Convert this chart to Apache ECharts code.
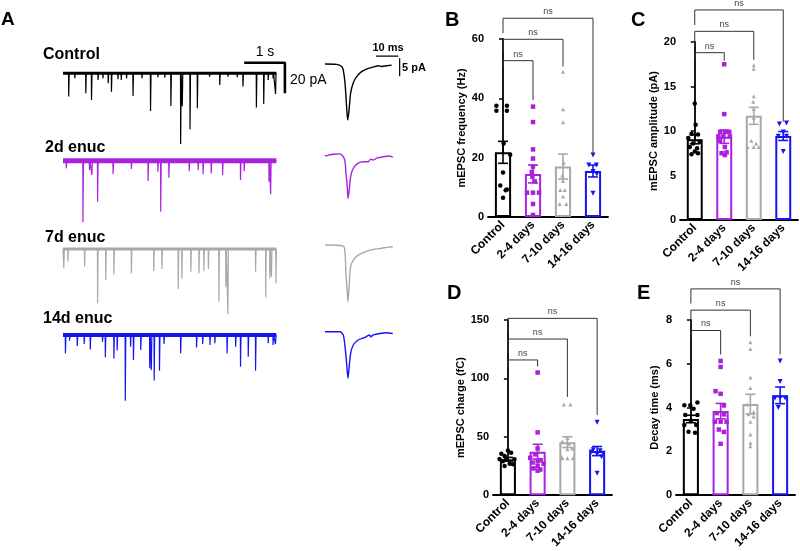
<!DOCTYPE html>
<html><head><meta charset="utf-8">
<script src="https://cdn.jsdelivr.net/npm/echarts@6/dist/echarts.min.js"></script>
<style>html,body{margin:0;padding:0;background:#fff}#c{width:800px;height:551px}</style>
</head><body><div id="c"></div>
<script>
// ---------- shared ----------
const categories = ['Control', '2-4 days', '7-10 days', '14-16 days'];
const groupColors = ['#000000', '#AA22DD', '#A8A8A8', '#1515F0'];
const groupSymbols = ['circle', 'rect', 'triangle', 'triangle'];
const groupSymbolRotate = [0, 0, 0, 180];
const groupSymbolSize = [4.5, 4.5, 4, 5];

// ---------- panel A : traces ----------
const traceLabels = ['Control', '2d enuc', '7d enuc', '14d enuc'];
const traceDuration = 5.24; // s
const controlEventTimes = [0.14,0.29,0.56,0.70,0.86,0.98,1.11,1.19,1.35,1.43,1.56,1.72,1.94,2.15,2.33,2.50,2.65,2.89,2.93,3.12,3.30,3.60,3.85,4.05,4.28,4.42,4.75,4.93,5.04,5.16,5.22];
const controlEventAmps = [-15.2,-3.3,-13.1,-17.5,-4.4,-3.3,-6.5,-12.0,-3.9,-4.4,-3.3,-14.8,-3.3,-24.6,-2.6,-2.8,-21.4,-46.2,-21.6,-36.6,-22.9,-2.2,-7.6,-2.2,-2.6,-8.7,-22.4,-20.1,-4.4,-3.3,-13.5];
const enuc2EventTimes = [0.08,0.49,0.65,0.71,0.85,1.23,1.68,2.09,2.33,2.40,2.60,3.10,3.32,3.44,3.64,3.92,4.36,4.45,5.06,5.10];
const enuc2EventAmps = [-5.0,-40.3,-6.1,-9.4,-26.8,-8.9,-5.4,-13.3,-7.2,-33.3,-11.1,-6.8,-6.1,-8.9,-8.3,-9.4,-12.6,-6.8,-13.7,-22.0];
const enuc7EventTimes = [0.02,0.12,0.53,0.85,1.05,1.25,1.68,2.23,2.43,2.83,2.92,3.14,3.34,3.46,3.57,3.83,4.00,4.05,4.73,4.98,5.08,5.12,5.23];
const enuc7EventAmps = [-12.6,-8.3,-11.5,-35.5,-20.3,-16.6,-15.9,-14.4,-13.1,-26.1,-19.2,-14.8,-15.9,-14.4,-13.1,-34.4,-24.6,-42.7,-14.8,-31.6,-19.2,-18.1,-22.4];
const enuc14EventTimes = [0.06,0.16,0.35,0.52,0.67,0.97,1.04,1.25,1.33,1.53,1.66,1.73,1.91,2.13,2.17,2.24,2.37,2.48,2.89,3.28,3.43,3.61,3.73,4.03,4.24,4.36,4.55,4.73,5.04,5.16,5.22];
const enuc14EventAmps = [-12.0,-3.7,-7.2,-5.9,-9.4,-4.4,-14.6,-15.3,-10.2,-42.9,-7.6,-16.3,-9.8,-21.8,-22.9,-29.8,-23.3,-5.9,-12.0,-8.1,-5.9,-6.5,-5.4,-12.0,-7.6,-20.7,-14.2,-23.3,-5.4,-6.5,-5.9];

// averaged events: [ms, pA]
const avgControl = [[0,0],[5.2,-0.1],[7.5,-0.7],[8.2,-1.7],[9.0,-5.4],[9.7,-11.9],[10.2,-15.6],[10.8,-12.8],[11.5,-8.1],[12.7,-5.2],[14.2,-3.5],[16.4,-2.1],[19.4,-1.2],[22.4,-0.7],[23.9,-0.5],[25.4,-0.7],[27.6,-0.5],[29.9,-0.3]];
const avgEnuc2 = [[0,0],[3.7,0.5],[6.7,0.6],[8.2,-0.2],[9.0,-1.6],[9.4,-4.8],[10.0,-8.5],[10.3,-11.8],[10.8,-9.9],[11.5,-5.7],[12.7,-3.4],[14.9,-2.0],[17.2,-1.6],[19.4,-1.6],[20.5,-0.9],[21.7,-1.1],[23.2,-0.6],[26.1,-0.2],[29.1,0],[30.4,-0.4]];
const avgEnuc7 = [[0,0],[8.2,-0.3],[9.0,-2.3],[9.4,-7.9],[10.0,-13.4],[10.3,-15.7],[10.8,-11.6],[11.5,-6.0],[12.7,-4.2],[14.9,-2.8],[17.9,-1.9],[21.7,-1.2],[25.4,-0.9],[28.4,-0.6],[30.4,-0.5]];
const avgEnuc14 = [[0,0],[6.7,0],[8.2,-0.9],[9.0,-4.2],[9.7,-8.8],[10.3,-12.9],[10.8,-10.2],[11.5,-6.0],[12.7,-3.7],[14.9,-2.3],[17.9,-1.6],[19.9,-0.9],[20.5,-1.4],[21.7,-0.9],[24.7,-0.5],[27.6,-0.3],[30.4,-0.5]];

// scale bars
const traceScaleTime = 1;      // s
const traceScaleCurrent = 20;  // pA
const avgScaleTime = 10;       // ms
const avgScaleCurrent = 5;     // pA

// ---------- panels B-E ----------
const freqMean = [21.8, 14.5, 17.0, 15.5];
const freqSem = [3.7, 3.0, 4.2, 2.0];
const freqPoints = [
  [[-0.22,37.5],[0.13,37.5],[-0.22,35.8],[0.13,35.8],[0.02,24.8],[0.24,21.0],[0,15.0],[-0.09,10.6],[0.13,9.3],[0.09,9.0],[0,6.5]],
  [[0,37.2],[0,32],[0,22.8],[0,19.7],[0,17],[-0.04,15.2],[-0.02,13.6],[0.06,12],[-0.2,8.2],[0,8.2],[0.2,8.2],[0,4.4],[0,0.7]],
  [[0,49],[0,36.3],[0,31.9],[0.02,18.3],[-0.02,14],[0,12.1],[-0.09,9.1],[0.06,9.1],[0,6.9],[-0.11,4.4],[0.11,4.4]],
  [[0,20.9],[-0.14,17.5],[0.11,17.5],[0,15.3],[0.13,14.5],[0,8]]
];
const freqBrackets = [[1,52.7,50.1,39.4],[2,59.9,55.3,50.7],[3,67.0,62.0,20.9]];
const freqTicks = [0, 60, 20];

const ampMean = [9.06, 9.36, 11.7, 9.44];
const ampSem = [0.5, 0.75, 0.95, 0.5];
const ampPoints = [
  [[0,13.1],[0.03,10.7],[-0.11,9.7],[0.11,9.6],[-0.22,9.2],[-0.06,8.6],[0.17,8.8],[-0.17,8.2],[0.08,8.05],[0,7.7],[-0.11,7.4],[0.11,7.5]],
  [[0,17.5],[0,11.9],[-0.14,9.9],[0.02,9.9],[0.17,9.9],[-0.2,9.4],[-0.03,9.4],[0.19,9.4],[-0.14,8.9],[0.02,8.2],[-0.09,7.5],[0.08,7.6],[0.02,7.3]],
  [[0,17.4],[0,17.0],[0,13.9],[-0.02,13.3],[0,12.5],[0,11.5],[-0.08,8.9],[0.08,8.6],[-0.21,8.2],[0,8.2],[0.17,8.2]],
  [[-0.13,10.8],[0.11,10.9],[0,9.9],[-0.17,9.4],[0.11,9.4],[0,7.7]]
];
const ampBrackets = [[1,18.8,17.8,17.9],[2,21.2,19.5,18.0],[3,23.6,21.9,11.05]];
const ampTicks = [0, 20, 5];

const chargeMean = [30.8, 37.3, 45.4, 37.8];
const chargeSem = [1.6, 6.3, 4.6, 3.9];
const chargePoints = [
  [[0,38.4],[-0.22,35.6],[0.11,36.4],[-0.11,33.5],[-0.28,31],[-0.06,30.8],[0.22,30.8],[-0.17,29],[0.06,27],[0.17,26.6],[-0.11,25]],
  [[0,105],[0,53.8],[0,40],[-0.08,35],[-0.25,32],[0.1,30],[0,29],[-0.17,28],[0.2,27],[0,25],[-0.14,23],[0.09,22],[0,21]],
  [[-0.12,77.7],[0.1,77.7],[0,49],[-0.17,46],[0.05,44],[0.17,40],[0,39.3],[-0.2,33],[-0.17,31.7],[0,31.7],[0.19,31.7]],
  [[0,62.5],[-0.13,39],[0.1,38],[-0.2,37],[0.2,36],[0,35],[0.15,33],[0,18.8]]
];
const chargeBrackets = [[1,115.8,108.5,110.2],[2,133.7,121.4,84.1],[3,151.4,138.8,68.7]];
const chargeTicks = [0, 150, 50];

const decayMean = [3.48, 3.84, 4.16, 4.56];
const decaySem = [0.17, 0.35, 0.45, 0.38];
const decayPoints = [
  [[0.22,4.23],[-0.22,4.11],[-0.02,4.11],[0.09,3.95],[-0.19,3.66],[0.22,3.66],[0,3.4],[-0.22,3.21],[0.18,3.21],[-0.08,2.9],[0.14,2.85]],
  [[0,6.13],[0,5.86],[-0.17,4.75],[0,4.63],[0.11,4.1],[-0.13,3.75],[0.11,3.69],[-0.19,3.36],[0,3.36],[0.2,3.36],[-0.06,3.0],[0.11,2.89],[0,2.35]],
  [[0,6.98],[0,6.68],[0,5.37],[0,4.9],[-0.11,4.14],[0.11,3.8],[-0.06,3.7],[0.11,3.6],[0,3.36],[0,2.77],[0,2.39],[0,2.24]],
  [[0,6.13],[0,5.19],[-0.17,4.44],[0,4.44],[0.17,4.44],[-0.06,4.0]]
];
const decayBrackets = [[1,7.52,7.18,6.43],[2,8.45,7.78,7.25],[3,9.42,8.75,6.43]];
const decayTicks = [0, 8, 2];

// ---------- build ----------
const FONT = '"Liberation Sans", Arial, sans-serif';
const grids = [], xAxes = [], yAxes = [], series = [];

function buildTrace(times, amps) {
  const d = [[0, 0]];
  for (let i = 0; i < times.length; i++) {
    d.push([times[i] - 0.004, 0], [times[i], amps[i]], [times[i] + 0.012, 0]);
  }
  d.push([traceDuration, 0]);
  return d;
}

const traceEvents = [
  [controlEventTimes, controlEventAmps],
  [enuc2EventTimes, enuc2EventAmps],
  [enuc7EventTimes, enuc7EventAmps],
  [enuc14EventTimes, enuc14EventAmps]
];
const avgTraces = [avgControl, avgEnuc2, avgEnuc7, avgEnuc14];
const traceGridTops = [42.7, 130.1, 218.4, 304.4];
const avgGridTops = [46, 138, 227, 313.7];
const bandWidths = [3, 5, 3, 4];

for (let k = 0; k < 4; k++) {
  // long trace
  let g = grids.length;
  grids.push({ left: 63, top: traceGridTops[k], width: 228, height: 122.4 });
  xAxes.push({ type: 'value', gridIndex: g, min: 0, max: 5.6, show: false });
  yAxes.push({ type: 'value', gridIndex: g, min: -60, max: 20, show: false });
  let xi = xAxes.length - 1, yi = yAxes.length - 1;
  series.push({ type: 'line', xAxisIndex: xi, yAxisIndex: yi, data: [[0, 0], [traceDuration, 0]],
    symbol: 'none', lineStyle: { color: groupColors[k], width: bandWidths[k] }, silent: true, z: 2 });
  series.push({ type: 'line', xAxisIndex: xi, yAxisIndex: yi, data: buildTrace(traceEvents[k][0], traceEvents[k][1]),
    symbol: 'none', lineStyle: { color: groupColors[k], width: 1.2 }, silent: true, clip: false, z: 3 });
  if (k === 0) {
    const x0 = 4.45, y0 = 6.9;
    series.push({ type: 'line', xAxisIndex: xi, yAxisIndex: yi,
      data: [[x0, y0], [x0 + traceScaleTime, y0], [x0 + traceScaleTime, y0 - traceScaleCurrent]],
      symbol: 'none', lineStyle: { color: '#000', width: 2.6 }, silent: true, clip: false });
  }
  // averaged event
  g = grids.length;
  grids.push({ left: 325, top: avgGridTops[k], width: 78, height: 90 });
  xAxes.push({ type: 'value', gridIndex: g, min: 0, max: 35, show: false });
  yAxes.push({ type: 'value', gridIndex: g, min: -20, max: 5, show: false });
  xi = xAxes.length - 1; yi = yAxes.length - 1;
  series.push({ type: 'line', xAxisIndex: xi, yAxisIndex: yi, data: avgTraces[k], smooth: 0.25,
    symbol: 'none', lineStyle: { color: groupColors[k], width: 1.4 }, silent: true, clip: false });
  if (k === 0) {
    series.push({ type: 'line', xAxisIndex: xi, yAxisIndex: yi,
      data: [[22.9, 2.2], [22.9 + avgScaleTime, 2.2]],
      symbol: 'none', lineStyle: { color: '#000', width: 1.2 }, silent: true, clip: false });
    series.push({ type: 'line', xAxisIndex: xi, yAxisIndex: yi,
      data: [[33.5, 1.6], [33.5, 1.6 - avgScaleCurrent]],
      symbol: 'none', lineStyle: { color: '#000', width: 1.2 }, silent: true, clip: false });
  }
}

function buildPanel(box, ticks, mean, sem, points, brackets, title, nameGap) {
  const g = grids.length;
  grids.push(box);
  xAxes.push({ type: 'category', gridIndex: g, data: categories, boundaryGap: true,
    axisLine: { lineStyle: { color: '#000', width: 1.8 } },
    axisTick: { alignWithLabel: true, length: 4, lineStyle: { width: 1.5 } },
    axisLabel: { rotate: 45, interval: 0, margin: 6, color: '#000', fontWeight: 'bold', fontSize: 12, fontFamily: FONT } });
  const xc = xAxes.length - 1;
  xAxes.push({ type: 'value', gridIndex: g, min: -0.5, max: 3.5, show: false });
  const xv = xAxes.length - 1;
  yAxes.push({ type: 'value', gridIndex: g, min: ticks[0], max: ticks[1], interval: ticks[2],
    name: title, nameLocation: 'middle', nameRotate: 90, nameGap: nameGap,
    nameTextStyle: { color: '#000', fontWeight: 'bold', fontSize: 11, fontFamily: FONT },
    axisLine: { show: true, lineStyle: { color: '#000', width: 1.8 } },
    axisTick: { show: true, length: 4, lineStyle: { width: 1.5 } },
    splitLine: { show: false },
    axisLabel: { color: '#000', fontWeight: 'bold', fontSize: 11, margin: 4, fontFamily: FONT } });
  const yi = yAxes.length - 1;
  series.push({ type: 'bar', xAxisIndex: xc, yAxisIndex: yi, barWidth: '54%', silent: true,
    data: mean.map((v, i) => ({ value: v, itemStyle: { color: '#fff', borderColor: groupColors[i], borderWidth: 2 } })) });
  for (let i = 0; i < 4; i++) {
    series.push({ type: 'scatter', xAxisIndex: xv, yAxisIndex: yi, silent: true,
      symbol: groupSymbols[i], symbolRotate: groupSymbolRotate[i], symbolSize: groupSymbolSize[i],
      itemStyle: { color: groupColors[i], opacity: 1 },
      data: points[i].map(p => [i + p[0], p[1]]), z: 4 });
  }
  series.push({ type: 'custom', xAxisIndex: xv, yAxisIndex: yi, silent: true, z: 5,
    data: mean.map((m, i) => [i, m, sem[i]]),
    renderItem: (p, api) => {
      const i = api.value(0), m = api.value(1), s = api.value(2);
      const hi = api.coord([i, m + s]), lo = api.coord([i, m - s]);
      const c = groupColors[i], w = 5;
      const st = { stroke: c, lineWidth: 1.6 };
      return { type: 'group', children: [
        { type: 'line', shape: { x1: hi[0], y1: hi[1], x2: lo[0], y2: lo[1] }, style: st },
        { type: 'line', shape: { x1: hi[0] - w, y1: hi[1], x2: hi[0] + w, y2: hi[1] }, style: st },
        { type: 'line', shape: { x1: lo[0] - w, y1: lo[1], x2: lo[0] + w, y2: lo[1] }, style: st }
      ] };
    } });
  series.push({ type: 'custom', xAxisIndex: xv, yAxisIndex: yi, silent: true, z: 6,
    data: brackets,
    renderItem: (p, api) => {
      const r = api.value(0), yt = api.value(1), yl = api.value(2), yr = api.value(3);
      const a = api.coord([0, yl]), b = api.coord([0, yt]), c = api.coord([r, yt]), d = api.coord([r, yr]);
      return { type: 'group', children: [
        { type: 'polyline', shape: { points: [a, b, c, d] }, style: { stroke: '#333', lineWidth: 1, fill: null } },
        { type: 'text', x: (b[0] + c[0]) / 2, y: b[1] - 2,
          style: { text: 'ns', fill: '#444', font: '9px ' + FONT, align: 'center', verticalAlign: 'bottom', textAlign: 'center', textVerticalAlign: 'bottom' } }
      ] };
    } });
}

buildPanel({ left: 488, top: 39, width: 120, height: 178 }, freqTicks, freqMean, freqSem, freqPoints, freqBrackets, 'mEPSC frequency (Hz)', 20);
buildPanel({ left: 680, top: 42, width: 118, height: 178 }, ampTicks, ampMean, ampSem, ampPoints, ampBrackets, 'mEPSC amplitude (pA)', 20);
buildPanel({ left: 493, top: 320, width: 119, height: 178 }, chargeTicks, chargeMean, chargeSem, chargePoints, chargeBrackets, 'mEPSC charge (fC)', 25);
buildPanel({ left: 676, top: 320, width: 119, height: 178 }, decayTicks, decayMean, decaySem, decayPoints, decayBrackets, 'Decay time (ms)', 16);

function txt(text, x, y, font, align, valign) {
  return { type: 'text', x: x, y: y, silent: true,
    style: { text: text, font: font, fill: '#000', align: align || 'left', verticalAlign: valign || 'middle',
      textAlign: align || 'left', textVerticalAlign: valign || 'middle' } };
}
const graphic = [
  txt('A', 1, 20, 'bold 19px ' + FONT),
  txt(traceLabels[0], 43, 55, 'bold 16px ' + FONT),
  txt(traceLabels[1], 45, 148, 'bold 16px ' + FONT),
  txt(traceLabels[2], 45, 238, 'bold 16px ' + FONT),
  txt(traceLabels[3], 43, 319, 'bold 16px ' + FONT),
  txt('1 s', 265, 52, '14px ' + FONT, 'center'),
  txt('20 pA', 290, 80, '14px ' + FONT),
  txt('10 ms', 388, 48, 'bold 11px ' + FONT, 'center'),
  txt('5 pA', 402, 68, 'bold 11px ' + FONT),
  txt('B', 445, 20, 'bold 20px ' + FONT),
  txt('C', 631, 20, 'bold 20px ' + FONT),
  txt('D', 447, 293, 'bold 20px ' + FONT),
  txt('E', 637, 293, 'bold 20px ' + FONT)
];

const chart = echarts.init(document.getElementById('c'), null, { renderer: 'canvas' });
chart.setOption({
  animation: false,
  backgroundColor: '#fff',
  textStyle: { fontFamily: FONT },
  grid: grids, xAxis: xAxes, yAxis: yAxes, series: series, graphic: graphic
});
</script></body></html>
